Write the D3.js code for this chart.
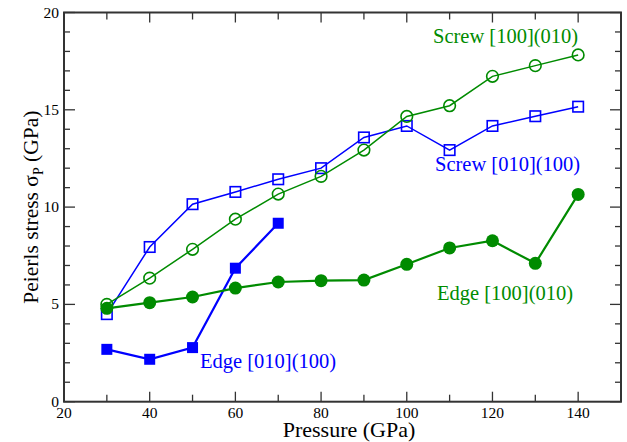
<!DOCTYPE html>
<html>
<head>
<meta charset="utf-8">
<script src="https://cdn.jsdelivr.net/npm/d3@7"></script>
<style>
  body { margin: 0; background: #fff; }
</style>
</head>
<body>
<div id="chart"></div>
<script>
'use strict';

// pressures (GPa)
var pressureAll = [30, 40, 50, 60, 70, 80, 90, 100, 110, 120, 130, 140];
var pressureEdge010 = [30, 40, 50, 60, 70];

// Peierls stress (GPa)
var screw010 = [4.5, 7.95, 10.15, 10.78, 11.43, 12.0, 13.58, 14.17, 12.93, 14.17, 14.67, 15.16];
var screw100 = [5.0, 6.35, 7.83, 9.38, 10.67, 11.58, 12.93, 14.66, 15.21, 16.72, 17.27, 17.82];
var edge100 = [4.8, 5.09, 5.38, 5.84, 6.15, 6.22, 6.25, 7.06, 7.9, 8.27, 7.11, 10.65];
var edge010 = [2.69, 2.18, 2.78, 6.86, 9.17];

var xTicks = [20, 40, 60, 80, 100, 120, 140];
var yTicks = [0, 5, 10, 15, 20];

var blue = '#0000ff',
    green = '#008b00';

var width = 627, height = 442,
    margin = {left: 64, right: 6, top: 12.5, bottom: 40.3};

var svg = d3.select('#chart').append('svg')
  .attr('width', width)
  .attr('height', height)
  .attr('font-family', "'Liberation Serif', 'Times New Roman', Times, 'Nimbus Roman', 'DejaVu Serif', serif");

var x = d3.scaleLinear().domain([20, 150]).range([margin.left, width - margin.right]);
var y = d3.scaleLinear().domain([0, 20]).range([height - margin.bottom, margin.top]);

var series = [
  {name: 'Screw [010](100)', xs: pressureAll, ys: screw010, color: blue, shape: 'square', filled: false, lw: 1.5},
  {name: 'Screw [100](010)', xs: pressureAll, ys: screw100, color: green, shape: 'circle', filled: false, lw: 1.5},
  {name: 'Edge [010](100)', xs: pressureEdge010, ys: edge010, color: blue, shape: 'square', filled: true, lw: 2.2},
  {name: 'Edge [100](010)', xs: pressureAll, ys: edge100, color: green, shape: 'circle', filled: true, lw: 2.2}
];

var line = d3.line()
  .x(function (d) { return x(d[0]); })
  .y(function (d) { return y(d[1]); });

series.forEach(function (s) {
  var pts = s.xs.map(function (p, i) { return [p, s.ys[i]]; });
  var g = svg.append('g');

  g.append('path')
    .attr('d', line(pts))
    .attr('fill', 'none')
    .attr('stroke', s.color)
    .attr('stroke-width', s.lw);

  if (s.shape === 'square') {
    var side = s.filled ? 11 : 10.5;
    g.selectAll('rect').data(pts).enter().append('rect')
      .attr('x', function (d) { return x(d[0]) - side / 2; })
      .attr('y', function (d) { return y(d[1]) - side / 2; })
      .attr('width', side)
      .attr('height', side)
      .attr('fill', s.filled ? s.color : 'none')
      .attr('stroke', s.color)
      .attr('stroke-width', s.filled ? 0 : 1.6);
  } else {
    g.selectAll('circle').data(pts).enter().append('circle')
      .attr('cx', function (d) { return x(d[0]); })
      .attr('cy', function (d) { return y(d[1]); })
      .attr('r', s.filled ? 6.5 : 5.8)
      .attr('fill', s.filled ? s.color : 'none')
      .attr('stroke', s.color)
      .attr('stroke-width', s.filled ? 0 : 1.6);
  }
});

// frame + ticks on all four sides (pointing inward)
var x0 = x.range()[0], x1 = x.range()[1], y0 = y.range()[0], y1 = y.range()[1];
var axisColor = '#333';
var ticks = svg.append('g').attr('stroke', axisColor).attr('stroke-width', 1.3);

d3.range(20, 151, 10).forEach(function (v) {
  var len = v % 20 === 0 ? 10 : 7;
  ticks.append('line').attr('x1', x(v)).attr('x2', x(v)).attr('y1', y0).attr('y2', y0 - len);
  ticks.append('line').attr('x1', x(v)).attr('x2', x(v)).attr('y1', y1).attr('y2', y1 + len);
});
d3.range(0, 21, 1).forEach(function (v) {
  var len = v % 5 === 0 ? 11 : 6;
  ticks.append('line').attr('y1', y(v)).attr('y2', y(v)).attr('x1', x0).attr('x2', x0 + len);
  ticks.append('line').attr('y1', y(v)).attr('y2', y(v)).attr('x1', x1).attr('x2', x1 - len);
});

svg.append('rect')
  .attr('x', x0).attr('y', y1)
  .attr('width', x1 - x0).attr('height', y0 - y1)
  .attr('fill', 'none')
  .attr('stroke', axisColor)
  .attr('stroke-width', 2);

// tick labels
svg.append('g').selectAll('text').data(xTicks).enter().append('text')
  .attr('x', function (d) { return x(d); })
  .attr('y', y0 + 16)
  .attr('text-anchor', 'middle')
  .attr('font-size', 15.5)
  .text(function (d) { return d; });

svg.append('g').selectAll('text').data(yTicks).enter().append('text')
  .attr('x', x0 - 5)
  .attr('y', function (d) { return y(d) + 5; })
  .attr('text-anchor', 'end')
  .attr('font-size', 15.5)
  .text(function (d) { return d; });

// axis titles
svg.append('text')
  .attr('x', 349)
  .attr('y', 437)
  .attr('text-anchor', 'middle')
  .attr('font-size', 22)
  .text('Pressure (GPa)');

var yt = svg.append('text')
  .attr('transform', 'translate(38,' + ((y0 + y1) / 2) + ') rotate(-90)')
  .attr('text-anchor', 'middle')
  .attr('font-size', 21.5);
yt.append('tspan').text('Peierls stress σ');
yt.append('tspan').attr('font-size', 14).attr('dy', 5).text('P');
yt.append('tspan').attr('dy', -5).text(' (GPa)');

// series labels
var labels = [
  {text: 'Screw [100](010)', px: 433, py: 43, color: green},
  {text: 'Screw [010](100)', px: 435, py: 171, color: blue},
  {text: 'Edge [100](010)', px: 437, py: 300, color: green},
  {text: 'Edge [010](100)', px: 200, py: 368, color: blue}
];
svg.append('g').selectAll('text').data(labels).enter().append('text')
  .attr('x', function (d) { return d.px; })
  .attr('y', function (d) { return d.py; })
  .attr('font-size', 20.5)
  .attr('fill', function (d) { return d.color; })
  .text(function (d) { return d.text; });
</script>
</body>
</html>
